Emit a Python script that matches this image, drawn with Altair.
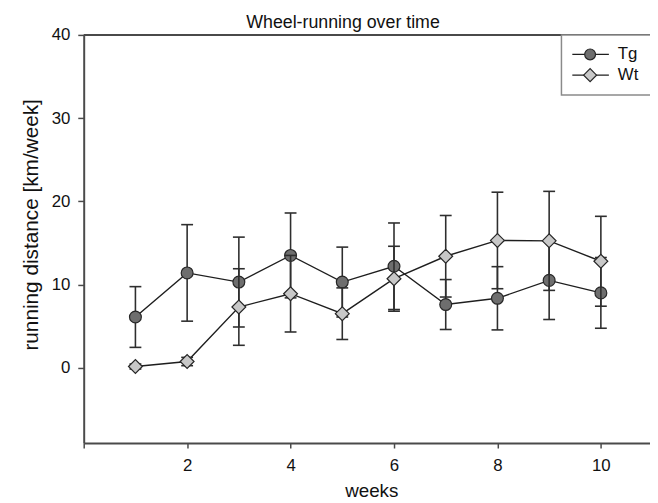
import altair as alt
import pandas as pd

# ---- data ----
weeks = [1, 2, 3, 4, 5, 6, 7, 8, 9, 10]
tg_mean = [6.1, 11.4, 10.3, 13.5, 10.3, 12.2, 7.6, 8.35, 10.5, 9.0]
tg_err = [3.65, 5.8, 5.4, 5.1, 4.2, 5.2, 3.0, 3.8, 4.7, 4.25]
wt_mean = [0.15, 0.75, 7.3, 8.9, 6.5, 10.7, 13.4, 15.3, 15.25, 12.8]
wt_err = [0.3, 0.5, 4.6, 4.6, 3.1, 3.9, 4.9, 5.8, 5.95, 5.4]
series_names = ["Tg", "Wt"]
x_ticks = [0, 2, 4, 6, 8, 10]
y_ticks = [0, 10, 20, 30, 40]
title_text = ["Wheel-running over time"]

rows = []
for name, means, errs in (("Tg", tg_mean, tg_err), ("Wt", wt_mean, wt_err)):
    for w, m, e in zip(weeks, means, errs):
        rows.append({"series": name, "week": w, "mean": m, "lo": m - e, "hi": m + e})
df = pd.DataFrame(rows)

W, H = 573, 413
FONT = "Liberation Sans"

xs = alt.Scale(domain=[0, 10.95], nice=False, zero=False)
ys = alt.Scale(domain=[-9.05, 40], nice=False, zero=False)
shape_scale = alt.Scale(domain=series_names, range=["circle", "diamond"])
fill_scale = alt.Scale(domain=series_names, range=["#6e6e6e", "#c8c8c8"])

x_axis = alt.Axis(values=x_ticks, labelExpr="datum.value == 0 ? '' : datum.label",
                  title="weeks", grid=False, tickSize=5, labelPadding=10,
                  titleFontSize=19, titleX=291, titleY=54, titleBaseline="alphabetic",
                  titleAlign="center")
y_axis = alt.Axis(values=y_ticks, title="running distance [km/week]", grid=False,
                  tickSize=6, labelPadding=8, titleFontSize=21, titleX=-52.6,
                  titleY=191.7, titleAngle=270, titleBaseline="middle", titleAlign="center")

x_enc = alt.X("week:Q", scale=xs, axis=x_axis)

LINE_C = "#1e1e1e"
ERR_C = "#2e2e2e"


def series_layers(name, size):
    b = alt.Chart(df).transform_filter(alt.datum.series == name)
    line = b.mark_line(color=LINE_C, strokeWidth=1.4).encode(
        x=x_enc, y=alt.Y("mean:Q", scale=ys, axis=y_axis))
    err = b.mark_rule(color=ERR_C, strokeWidth=1.6).encode(
        x=x_enc, y=alt.Y("lo:Q", scale=ys, axis=y_axis), y2="hi:Q")
    caps = b.transform_fold(["lo", "hi"], as_=["bound", "yv"]).mark_rule(
        color=ERR_C, strokeWidth=1.6, xOffset=-6, x2Offset=6).encode(
        x=x_enc, x2="week:Q", y=alt.Y("yv:Q", scale=ys, axis=y_axis))
    pts = b.mark_point(filled=True, size=size, stroke="#262626", strokeWidth=1.2,
                       opacity=1).encode(
        x=x_enc, y=alt.Y("mean:Q", scale=ys, axis=y_axis),
        shape=alt.Shape("series:N", scale=shape_scale, legend=None),
        fill=alt.Fill("series:N", scale=fill_scale, legend=None))
    return [line, err, caps, pts]


one = pd.DataFrame({"k": [0]})
frame_top = alt.Chart(one).mark_rule(color="#4a4a4a", strokeWidth=2).encode(
    x=alt.value(0), x2=alt.value(W), y=alt.value(0))

title_mark = alt.Chart(pd.DataFrame({"t": title_text})).mark_text(
    align="center", baseline="alphabetic", fontSize=18, font=FONT, color="#111").encode(
    x=alt.value(262.4), y=alt.value(-7.3), text="t:N")

# legend (series names from data)
leg_df = pd.DataFrame({"series": series_names})
leg_base = alt.Chart(leg_df).transform_window(idx="row_number()").transform_calculate(
    ly="19.7 + (datum.idx - 1) * 21")
leg_box = alt.Chart(one).mark_rect(fill="white", stroke="#8a8a8a", strokeWidth=1.5).encode(
    x=alt.value(483.4), x2=alt.value(W + 20), y=alt.value(0), y2=alt.value(60.7))
leg_lines = leg_base.mark_rule(color=LINE_C, strokeWidth=1.4).encode(
    x=alt.value(494.4), x2=alt.value(531.4), y=alt.Y("ly:Q", scale=None, axis=None))
leg_pts = leg_base.mark_point(filled=True, stroke="#262626", strokeWidth=1.2, opacity=1).encode(
    x=alt.value(512.4), y=alt.Y("ly:Q", scale=None, axis=None),
    shape=alt.Shape("series:N", scale=shape_scale, legend=None),
    fill=alt.Fill("series:N", scale=fill_scale, legend=None),
    size=alt.Size("series:O", scale=alt.Scale(domain=series_names, range=[120, 170]), legend=None))
leg_text = leg_base.mark_text(align="left", baseline="middle", fontSize=17, font=FONT,
                              color="#111").encode(
    x=alt.value(540.4), y=alt.Y("ly:Q", scale=None, axis=None), text="series:N")

layers = series_layers("Tg", 144) + series_layers("Wt", 196) + [
    frame_top, leg_box, leg_lines, leg_pts, leg_text, title_mark]

chart = alt.layer(*layers).properties(
    width=W, height=H,
    autosize=alt.AutoSizeParams(type="none"),
    padding={"left": 76.6, "top": 24.3, "right": 0, "bottom": 58},
    background="white",
).configure_view(stroke=None).configure_axis(
    domainColor="#4a4a4a", domainWidth=2, tickColor="#4a4a4a", tickWidth=1.5,
    labelFont=FONT, labelFontSize=17, labelColor="#111",
    titleFont=FONT, titleFontWeight="normal", titleColor="#111",
)

chart.save("out.html", embed_options={"renderer": "svg", "actions": False})
